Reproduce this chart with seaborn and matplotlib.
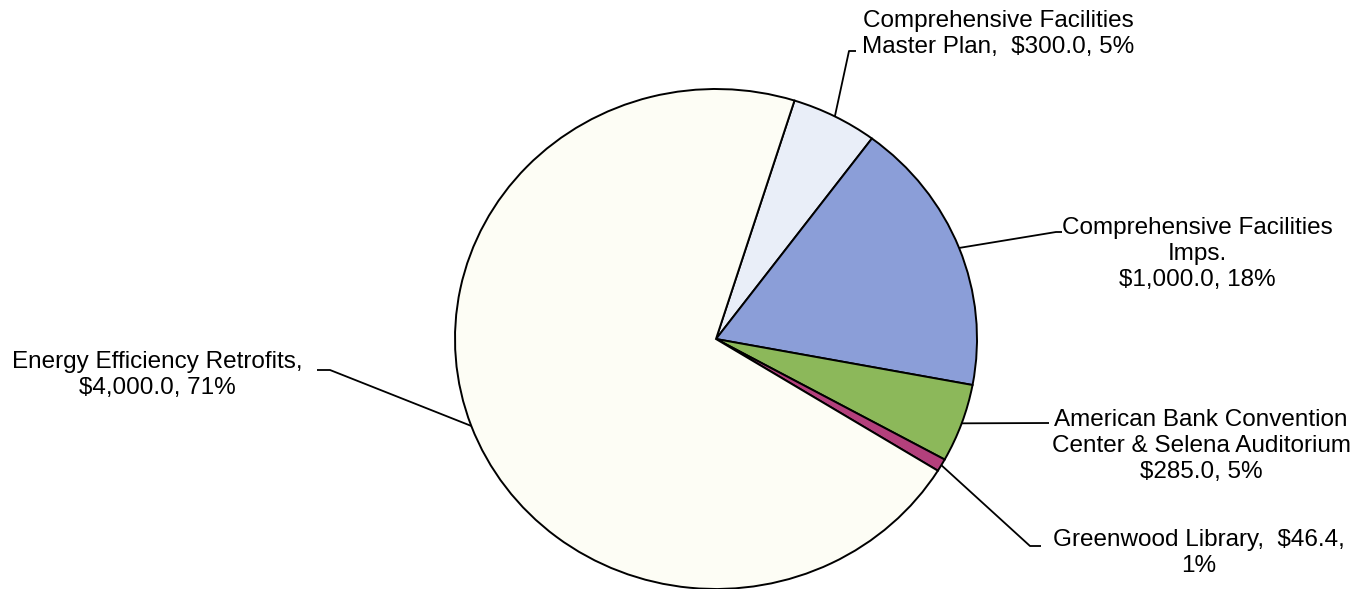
import numpy as np
import matplotlib
matplotlib.use("Agg")
import matplotlib.pyplot as plt
import seaborn as sns

# --- data (clockwise from the top-right) ---
projects = ["Comprehensive Facilities Master Plan", "Comprehensive Facilities Imps.",
            "American Bank Convention Center & Selena Auditorium", "Greenwood Library",
            "Energy Efficiency Retrofits"]
amounts = [300.0, 1000.0, 285.0, 46.4, 4000.0]
pct_labels = ["5%", "18%", "5%", "1%", "71%"]
amount_labels = ["$300.0", "$1,000.0", "$285.0", "$46.4", "$4,000.0"]
slice_colors = ["#e9eef8", "#8b9ed8", "#8cb85a", "#b3407c", "#fdfdf5"]

sns.set_theme(style="white")
plt.rcParams["font.family"] = ["Liberation Sans", "DejaVu Sans"]

W, H = 1360, 589
CX, CY, RX, RY = 716, 339, 261, 250   # pie centre / radii in pixels

fig = plt.figure(figsize=(W / 100, H / 100), dpi=100)
ax = fig.add_axes([0, 0, 1, 1])

wedges, _ = ax.pie(amounts, colors=slice_colors, startangle=72.5, counterclock=False,
                   radius=1, wedgeprops=dict(edgecolor="black", linewidth=1.4))
ax.set_aspect("auto")
ax.set_xlim(-CX / RX, (W - CX) / RX)
ax.set_ylim(-(H - CY) / RY, CY / RY)
ax.axis("off")


def px(x, y):
    # pixel position (from top-left) -> data coords
    return (x - CX) / RX, (CY - y) / RY


def edge_point(w):
    a = np.deg2rad((w.theta1 + w.theta2) / 2)
    return np.cos(a), np.sin(a)


# label text, text centre (px), leader path points after the edge (px)
labels = [
    (f"Comprehensive Facilities\nMaster Plan,  {amount_labels[0]}, {pct_labels[0]}",
     (998, 34), [(849, 51), (856, 51)]),
    (f"Comprehensive Facilities\nImps.\n{amount_labels[1]}, {pct_labels[1]}",
     (1197, 254), [(1056, 232), (1062, 232)]),
    (f"American Bank Convention\nCenter & Selena Auditorium\n{amount_labels[2]}, {pct_labels[2]}",
     (1201, 446), [(1049, 423)]),
    (f"Greenwood Library,  {amount_labels[3]},\n{pct_labels[3]}",
     (1199, 553), [(1030, 546), (1041, 546)]),
    (f"Energy Efficiency Retrofits,\n{amount_labels[4]}, {pct_labels[4]}",
     (157, 375), [(330, 370), (317, 370)]),
]

for w, (txt, (tx, ty), path) in zip(wedges, labels):
    pts = [edge_point(w)] + [px(*p) for p in path]
    xs, ys = zip(*pts)
    ax.plot(xs, ys, color="black", lw=1.3, solid_capstyle="butt")
    ax.text(*px(tx, ty), txt, ha="center", va="center", multialignment="center",
            fontsize=17.5, color="black", linespacing=1.24)

fig.savefig("out.png", dpi=100, facecolor="white")
